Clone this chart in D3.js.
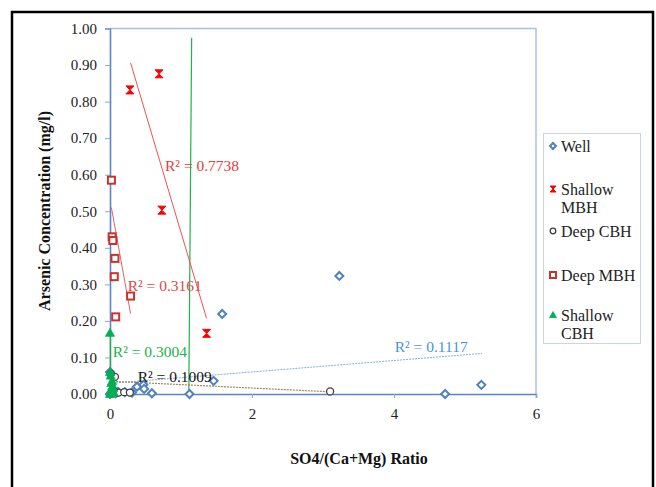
<!DOCTYPE html>
<html><head><meta charset="utf-8">
<script src="https://cdn.jsdelivr.net/npm/d3@7"></script>
<style>
html,body{margin:0;padding:0;background:#fff;}
svg{display:block;}
svg text{font-family:"Liberation Serif","Tinos","Times New Roman",Times,"DejaVu Serif",serif !important;}
</style></head>
<body><svg id="chart" width="656" height="487"></svg>
<script>
// ---- data ----
const wellX = [1.58, 3.23, 1.46, 5.23, 4.72, 1.12, 0.38, 0.47, 0.48, 0.59, 0.31, 0.21, 0.11, 0.04, 0.00, 0.02, 0.08, 0.00];
const wellY = [0.219, 0.323, 0.036, 0.025, 0.000, 0.000, 0.020, 0.025, 0.014, 0.002, 0.004, 0.005, 0.006, 0.003, 0.000, 0.005, 0.002, 0.060];
const shallowMbhX = [0.28, 0.69, 0.73, 1.36];
const shallowMbhY = [0.832, 0.876, 0.503, 0.166];
const deepCbhX = [0.07, 0.01, 0.12, 0.20, 0.28, 3.10, 0.05];
const deepCbhY = [0.047, 0.055, 0.004, 0.005, 0.004, 0.007, 0.010];
const deepMbhX = [0.02, 0.03, 0.04, 0.07, 0.06, 0.29, 0.08];
const deepMbhY = [0.585, 0.430, 0.420, 0.371, 0.321, 0.268, 0.211];
const shallowCbhX = [0.00, 0.00, 0.01, 0.02, 0.03, 0.04, 0.02, 0.05, 0.00, 0.03];
const shallowCbhY = [0.167, 0.060, 0.050, 0.030, 0.020, 0.015, 0.010, 0.005, 0.000, 0.035];

// trendline end points (x0,x1 / y0,y1)
const trendWellX = [0, 5.24], trendWellY = [0.029, 0.111];
const trendShallowMbhX = [0.29, 1.36], trendShallowMbhY = [0.906, 0.207];
const trendDeepCbhX = [0, 3.10], trendDeepCbhY = [0.035, 0.006];
const trendDeepMbhX = [0.02, 0.29], trendDeepMbhY = [0.51, 0.22];
const trendShallowCbhX = [1.15, 1.11], trendShallowCbhY = [0.975, 0.0];
const trendShallowCbh2X = [0.005, 0.005], trendShallowCbh2Y = [0.167, 0.0];

const r2Labels = ["R² = 0.7738", "R² = 0.3161", "R² = 0.3004", "R² = 0.1009", "R² = 0.1117"];
const r2X = [0.775, 0.25, 0.04, 0.39, 4.01];
const r2Y = [0.624, 0.298, 0.115, 0.049, 0.131];

const yTicks = [0, 0.1, 0.2, 0.3, 0.4, 0.5, 0.6, 0.7, 0.8, 0.9, 1.0];
const xTicks = [0, 2, 4, 6];
const seriesNames = ["Well", "Shallow\nMBH", "Deep CBH", "Deep MBH", "Shallow\nCBH"];

// ---- drawing ----
const FONT = "'Liberation Serif','Tinos','Times New Roman',Times,'DejaVu Serif',serif";
const svg = d3.select("#chart");
const x = d3.scaleLinear().domain([0, 6]).range([110, 536]);
const y = d3.scaleLinear().domain([0, 1]).range([394, 28.5]);

const C = {well:"#4f81bd", smbh:"#ff0000", dcbh:"#404040", dmbh:"#c8332f", scbh:"#00b050"};

// outer frame
svg.append("rect").attr("x",12).attr("y",12).attr("width",641).attr("height",500)
  .attr("fill","none").attr("stroke","#000").attr("stroke-width",2.5);

// plot border
svg.append("path").attr("d",`M${x(0)},${y(1)}H${x(6)}V${y(0)}`)
  .attr("fill","none").attr("stroke","#a9c2e3").attr("stroke-width",1.5);

// y axis
const yAxis = d3.axisLeft(y).tickValues(yTicks).tickFormat(d3.format(".2f")).tickSize(5).tickPadding(8);
const gy = svg.append("g").attr("transform",`translate(${x(0)},0)`).call(yAxis).attr("font-family",FONT);
gy.select(".domain").attr("stroke","#5b85c4").attr("stroke-width",1.6);
gy.selectAll(".tick line").attr("stroke","#8aa8d4");
gy.selectAll(".tick text").attr("font-size",15).attr("fill","#222");

// x axis
const xAxis = d3.axisBottom(x).tickValues(xTicks).tickFormat(d3.format("d")).tickSize(4).tickPadding(10);
const gx = svg.append("g").attr("transform",`translate(0,${y(0)})`).call(xAxis).attr("font-family",FONT);
gx.select(".domain").attr("stroke","#5b85c4").attr("stroke-width",1.6);
gx.selectAll(".tick line").attr("stroke","#8aa8d4");
gx.selectAll(".tick text").attr("font-size",15).attr("fill","#222");

// axis titles
svg.append("text").attr("x",359).attr("y",464).attr("text-anchor","middle").attr("font-family",FONT)
  .attr("font-size",16).attr("font-weight","bold").attr("fill","#111").text("SO4/(Ca+Mg) Ratio");
svg.append("text").attr("transform","translate(50,211) rotate(-90)").attr("text-anchor","middle").attr("font-family",FONT)
  .attr("font-size",16).attr("font-weight","bold").attr("fill","#111").text("Arsenic Concentration (mg/l)");

// trendlines
function seg(xs, ys, color, w, dash){
  svg.append("line").attr("x1",x(xs[0])).attr("y1",y(ys[0])).attr("x2",x(xs[1])).attr("y2",y(ys[1]))
    .attr("stroke",color).attr("stroke-width",w).attr("stroke-dasharray",dash||null);
}
seg(trendShallowCbhX, trendShallowCbhY, "#22b14c", 1.2);
seg(trendShallowCbh2X, trendShallowCbh2Y, "#22b14c", 1.2);
seg(trendWellX, trendWellY, "#7fb2e5", 1, "2,1");
seg(trendDeepCbhX, trendDeepCbhY, "#9c8a5a", 1.2, "2,1");
seg(trendShallowMbhX, trendShallowMbhY, "#f05050", 1);
seg(trendDeepMbhX, trendDeepMbhY, "#e06060", 1);

// marker shapes (s = half size)
const diamond = (g, cx, cy, s=4) => g.append("path").attr("d",`M${cx},${cy-s}L${cx+s},${cy}L${cx},${cy+s}L${cx-s},${cy}Z`)
  .attr("fill","#fff").attr("stroke",C.well).attr("stroke-width",2);
const bowtie = (g, cx, cy, s=4) => g.append("path").attr("d",`M${cx-s},${cy-s}L${cx+s},${cy-s}L${cx},${cy}L${cx+s},${cy+s}L${cx-s},${cy+s}L${cx},${cy}Z`)
  .attr("fill",C.smbh).attr("stroke",C.smbh).attr("stroke-width",1);
const circ = (g, cx, cy, s=3.5) => g.append("circle").attr("cx",cx).attr("cy",cy).attr("r",s)
  .attr("fill","#fff").attr("stroke",C.dcbh).attr("stroke-width",1.3);
const square = (g, cx, cy, s=3.5) => g.append("rect").attr("x",cx-s).attr("y",cy-s).attr("width",2*s).attr("height",2*s)
  .attr("fill","#fff").attr("stroke",C.dmbh).attr("stroke-width",2);
const tri = (g, cx, cy, s=4.5) => g.append("path").attr("d",`M${cx},${cy-s}L${cx+s},${cy+s*0.75}L${cx-s},${cy+s*0.75}Z`)
  .attr("fill",C.scbh).attr("stroke",C.scbh).attr("stroke-width",0.8);

const pts = svg.append("g");
wellX.forEach((v,i)=>diamond(pts, x(v), y(wellY[i])));
deepCbhX.forEach((v,i)=>circ(pts, x(v), y(deepCbhY[i])));
shallowCbhX.forEach((v,i)=>tri(pts, x(v), y(shallowCbhY[i])));
deepMbhX.forEach((v,i)=>square(pts, x(v), y(deepMbhY[i])));
shallowMbhX.forEach((v,i)=>bowtie(pts, x(v), y(shallowMbhY[i])));

// R² labels
const r2Colors = ["#e83a3a", "#d84848", "#22b14c", "#111", "#4a94d6"];
r2Labels.forEach((t,i)=>{
  svg.append("text").attr("x",x(r2X[i])).attr("y",y(r2Y[i])).attr("dy","0.35em").attr("font-family",FONT)
    .attr("font-size",15.5).attr("fill",r2Colors[i]).text(t);
});

// legend
svg.append("rect").attr("x",543.5).attr("y",133.5).attr("width",97).attr("height",210)
  .attr("fill","#fff").attr("stroke","#c9d6ea").attr("stroke-width",1);
const legY = [146, 189, 231, 275, 315];
const makers = [diamond, bowtie, circ, square, tri];
const legSize = [3, 3, 2.8, 3, 3.5];
seriesNames.forEach((n,i)=>{
  const lg = svg.append("g");
  makers[i](lg, 553, legY[i], legSize[i]);
  n.split("\n").forEach((line,j)=>{
    svg.append("text").attr("x",561).attr("y",legY[i]+j*18).attr("dy","0.35em").attr("font-family",FONT)
      .attr("font-size",16).attr("fill","#222").text(line);
  });
});
</script></body></html>
